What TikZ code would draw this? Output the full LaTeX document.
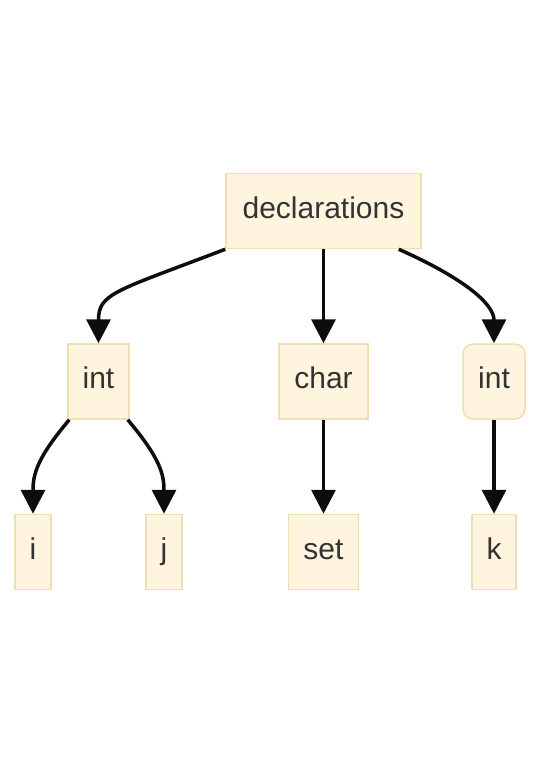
\documentclass[tikz,border=0pt]{standalone}
\usepackage{fontspec}
\setmainfont{Liberation Sans}
\usetikzlibrary{arrows.meta,calc}
\definecolor{boxfill}{HTML}{FFF4DD}
\definecolor{boxline}{HTML}{F0DFB4}
\definecolor{txt}{HTML}{333333}
\definecolor{edge}{HTML}{0D0D0D}
\begin{document}
\begin{tikzpicture}[x=1pt,y=-1pt,
  treenode/.style={draw=boxline,line width=1.5pt,fill=boxfill,text=txt,
    minimum height=75pt,inner sep=0pt,text height=20pt,text depth=6pt,
    font=\fontsize{30}{36}\selectfont},
  link/.style={draw=edge,line width=3.5pt,
    -{Triangle[length=24pt,width=24pt]}}]
\useasboundingbox (0,0) rectangle (540,764);
\node[treenode,minimum width=195pt] (decl) at (323.5,211) {declarations};
\node[treenode,minimum width=61pt] (intA) at (98.5,381.5) {int};
\node[treenode,minimum width=89pt] (chr) at (323.5,381.5) {char};
\node[treenode,minimum width=62pt,rounded corners=10pt] (intB) at (494,381.5) {int};
\node[treenode,minimum width=36pt] (i) at (33,552) {i};
\node[treenode,minimum width=36pt] (j) at (164,552) {j};
\node[treenode,minimum width=70pt] (set) at (323.5,552) {set};
\node[treenode,minimum width=44pt] (k) at (494,552) {k};
% edges from declarations
\draw[link] (decl.south west) .. controls ($(decl.south west)+(-110,42)$) and ($(intA.north)+(0,-50)$) .. (intA.north);
\draw[link] (decl.south) -- (chr.north);
\draw[link] ($(decl.south east)+(-23,0)$) .. controls ($(decl.south east)+(40,28)$) and ($(intB.north)+(0,-40)$) .. (intB.north);
% edges from the left int
\draw[link] ($(intA.south west)+(2,0)$) .. controls ($(intA.south west)+(-30,38)$) and ($(i.north)+(0,-40)$) .. (i.north);
\draw[link] ($(intA.south east)+(-2,0)$) .. controls ($(intA.south east)+(30,38)$) and ($(j.north)+(0,-40)$) .. (j.north);
\draw[link] (chr.south) -- (set.north);
\draw[link] (intB.south) -- (k.north);
\end{tikzpicture}
\end{document}
